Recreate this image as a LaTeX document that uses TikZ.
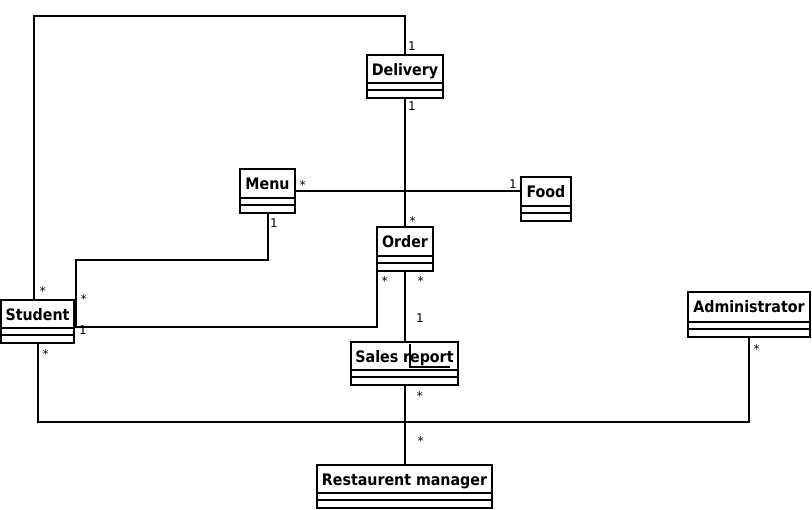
\documentclass[tikz,border=0pt]{standalone}
\usepackage{fontspec}
\setmainfont{DejaVu Sans Condensed}
\newfontfamily\labfont{DejaVu Sans Mono}
\usetikzlibrary{fit}
\tikzset{
  x=1pt, y=-1pt,
  clsname/.style={inner sep=0pt, font=\bfseries\fontsize{15.8}{18}\selectfont},
  lab/.style={anchor=base west, inner sep=0pt, font=\labfont\fontsize{12}{13}\selectfont},
  conn/.style={line width=2pt},
  clsbox/.style={draw, line width=2pt, inner sep=0pt, outer sep=0pt}
}
\newcommand\umlclass[6]{%
  \node[clsbox, fit={(#2,#3) (#4,#5)}] (#1) {};
  \node[clsname, anchor=base] (#1-t) at ({(#2+#4)/2},{#3+20.5}) {#6};
  \draw[line width=2pt] (#2,{#5-15}) -- (#4,{#5-15}) (#2,{#5-8}) -- (#4,{#5-8});
}
\begin{document}
\begin{tikzpicture}
\useasboundingbox (0,0) rectangle (812,510);
\umlclass{Delivery}{367}{55}{443}{98}{Delivery}
\umlclass{Menu}{240}{169}{295}{213}{Menu}
\umlclass{Food}{521}{177}{571}{221}{Food}
\umlclass{Order}{377}{227}{433}{271}{Order}
\umlclass{Student}{1}{300}{74}{343}{Student}
\umlclass{Sales}{351}{342}{458}{385}{Sales report}
\umlclass{RM}{317}{465}{492}{508}{Restaurent manager}
\umlclass{Admin}{688}{292}{810}{337}{Administrator}

\coordinate (sm) at (76,327);
\coordinate (so) at (74,327);

\draw[conn] (Student.north -| 34,0) |- (405,16) -| (Delivery.north -| 405,0);
\draw[conn] (Delivery.south -| 405,0) -- (Order.north -| 405,0);
\draw[conn] (Menu.east |- 0,191) -- (Food.west |- 0,191);
\draw[conn] (Menu.south -| 268,0) |- (76,260) -- (sm);
\draw[conn] (Order.south west) |- (so);
\draw[conn] (Order.south -| 405,0) -- (Sales.north -| 405,0);
\draw[conn] (Sales.south -| 405,0) -- (RM.north -| 405,0);
\draw[conn] (Student.south -| 38,0) |- (749,422) -- (Admin.south -| 749,0);

\draw[line width=1.3pt] (410,344) |- (450,367);

\node[lab] at (408,51) {1};
\node[lab] at (39,296) {*};
\node[lab] at (408,111) {1};
\node[lab] at (409,226) {*};
\node[lab] at (299,190) {*};
\node[lab] at (509,189) {1};
\node[lab] at (270,228) {1};
\node[lab] at (80,304) {*};
\node[lab] at (79,335) {1};
\node[lab] at (381,286) {*};
\node[lab] at (417,286) {*};
\node[lab] at (416,323) {1};
\node[lab] at (416,401) {*};
\node[lab] at (417,446) {*};
\node[lab] at (42,359) {*};
\node[lab] at (753,354) {*};
\end{tikzpicture}
\end{document}
